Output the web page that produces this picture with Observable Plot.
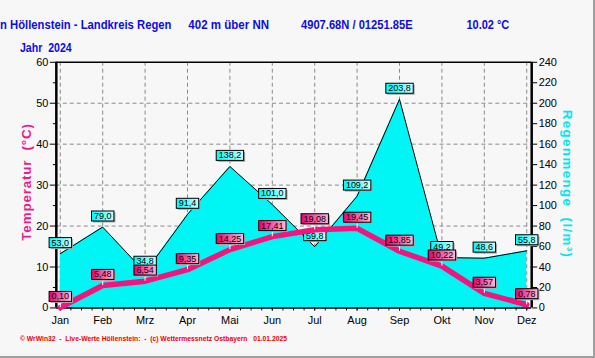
<!DOCTYPE html>
<html><head><meta charset="utf-8">
<script src="https://cdn.jsdelivr.net/npm/d3@7"></script>
<script src="https://cdn.jsdelivr.net/npm/@observablehq/plot@0.6"></script>
<style>
html,body{margin:0;padding:0;background:#f7f7f7;}
#wrap{position:relative;width:593px;height:356px;border-right:2px solid #a0a0a0;border-bottom:2px solid #a0a0a0;overflow:hidden;background:#f7f7f7;}
#wrap svg{position:absolute;left:0;top:0;}
</style></head><body><div id="wrap"></div>
<script>
const months = ["Jan","Feb","Mrz","Apr","Mai","Jun","Jul","Aug","Sep","Okt","Nov","Dez"];
const monthNumbers = [1,2,3,4,5,6,7,8,9,10,11,12];
const temperature = [0.10,5.48,6.54,9.35,14.25,17.41,19.08,19.45,13.85,10.22,3.57,0.78];
const rainfall = [53.0,79.0,34.8,91.4,138.2,101.0,59.8,109.2,203.8,49.2,48.6,55.8];
const tempTicks = [0,10,20,30,40,50,60];
const tempMinorTicks = [5,15,25,35,45,55];
const rainTicks = [0,20,40,60,80,100,120,140,160,180,200,220,240];
const RAIN_PER_DEGREE = 4; // 240 l/m² on the right axis = 60 °C on the left axis

const data = months.map((name, i) => ({m: monthNumbers[i], name, t: temperature[i], r: rainfall[i], rs: rainfall[i] / RAIN_PER_DEGREE}));
const fmt1 = v => v.toFixed(1).replace(".", ",");
const fmt2 = v => v.toFixed(2).replace(".", ",");
const quarterTicks = d3.range(1, 12.001, 0.25);
const monthPx = 468 / 11;
const xDomain = [1 - 4 / monthPx, 12 + 5 / monthPx];

const grey = "#8a8a8a";
const plot = Plot.plot({
  width: 595, height: 358,
  marginLeft: 56, marginRight: 62, marginTop: 62, marginBottom: 49.5,
  style: {background: "transparent", fontFamily: "'Liberation Sans', Arial, sans-serif", fontSize: "11px", color: "black"},
  x: {type: "linear", domain: xDomain, axis: null},
  y: {domain: [0, 60], axis: null},
  marks: [
    Plot.ruleY(tempTicks.slice(1, -1), {stroke: grey, strokeDasharray: "4,3"}),
    Plot.ruleX(data, {x: "m", stroke: grey, strokeDasharray: "4,3"}),
    Plot.areaY(data, {x: "m", y: "rs", fill: "#00f5f5"}),
    Plot.lineY(data, {x: "m", y: "rs", stroke: "black", strokeWidth: 1}),
    Plot.axisY(tempTicks, {anchor: "left", tickSize: 6, tickPadding: 2, label: null}),
    Plot.axisY(tempMinorTicks, {anchor: "left", tickSize: 3, tickFormat: () => "", label: null}),
    Plot.axisY(rainTicks.map(v => v / RAIN_PER_DEGREE), {anchor: "right", tickSize: 5, tickPadding: 2, tickFormat: v => String(v * RAIN_PER_DEGREE), label: null}),
    Plot.axisX(monthNumbers, {anchor: "bottom", tickSize: 3, tickPadding: 5, tickFormat: v => months[v - 1], label: null}),
    Plot.axisX(quarterTicks, {anchor: "bottom", tickSize: 3, tickFormat: () => "", label: null}),
    Plot.ruleY([0], {stroke: "black", strokeWidth: 1.5}),
    Plot.ruleY([60], {stroke: "black", strokeWidth: 1.5}),
    Plot.ruleX(xDomain, {stroke: "black", strokeWidth: 2.5}),
    Plot.text(data, {x: "m", y: "rs", text: d => fmt1(d.r), dy: -11, fontSize: 9, fill: "black"}),
    Plot.lineY(data, {x: "m", y: "t", stroke: "#f5147e", strokeWidth: 5.5, strokeLinejoin: "round"}),
    Plot.ruleX(data, {x: "m", y1: "t", y2: d => d.t + 1.3, stroke: "white"}),
    Plot.text(data, {x: "m", y: "t", text: d => fmt2(d.t), dy: -11, fontSize: 9, fill: "black"})
  ]
});

document.getElementById("wrap").appendChild(plot);
const ns = "http://www.w3.org/2000/svg";
const svg = d3.select(plot);
const defs = svg.insert("defs", ":first-child");
function grad(id, c0, c1) {
  const g = defs.append("linearGradient").attr("id", id).attr("x1", "0").attr("x2", "1").attr("y1", "0").attr("y2", "0");
  g.append("stop").attr("offset", "0").attr("stop-color", c0);
  g.append("stop").attr("offset", "1").attr("stop-color", c1);
}
grad("gc", "#00f8f8", "#c8ffff");
grad("gm", "#e8006e", "#ffb8dc");

const textGroups = plot.querySelectorAll('g[aria-label="text"]');
function boxes(group, fillId) {
  if (!group) return;
  group.querySelectorAll("text").forEach(t => {
    const b = t.getBBox();
    const tr = t.getAttribute("transform");
    const mk = (off, fill, stroke) => {
      const r = document.createElementNS(ns, "rect");
      r.setAttribute("x", b.x - 2.5 + off);
      r.setAttribute("y", b.y + off);
      r.setAttribute("width", b.width + 5);
      r.setAttribute("height", b.height);
      r.setAttribute("fill", fill);
      r.setAttribute("stroke", stroke);
      r.setAttribute("stroke-width", 1);
      if (tr) r.setAttribute("transform", tr);
      t.parentNode.insertBefore(r, t);
    };
    mk(1.5, "#a8a8a8", "none");
    mk(0, `url(#${fillId})`, "black");
  });
}
boxes(textGroups[0], "gc");
boxes(textGroups[1], "gm");

// header, footer and axis titles
const blue = "#0c0ce6";
const headerFont = "'Liberation Sans', Arial, sans-serif";
const headers = [
  {s: "n Höllenstein - Landkreis Regen", x: 0, y: 29, w: 172},
  {s: "402 m über NN", x: 189, y: 29, w: 81},
  {s: "4907.68N / 01251.85E", x: 302, y: 29, w: 112},
  {s: "10.02 °C", x: 468, y: 29, w: 43},
  {s: "Jahr  2024", x: 20, y: 52, w: 52}
];
headers.forEach(h => {
  svg.append("text").attr("x", h.x).attr("y", h.y).attr("fill", blue).attr("text-anchor", "start")
    .attr("font-family", headerFont).attr("font-weight", "bold").attr("font-size", 12.5)
    .attr("textLength", h.w).attr("lengthAdjust", "spacingAndGlyphs").text(h.s);
});
svg.append("text").attr("x", 20).attr("y", 342).attr("fill", "#f00000").attr("text-anchor", "start")
  .attr("font-family", headerFont).attr("font-weight", "bold").attr("font-size", 7)
  .attr("textLength", 268).attr("lengthAdjust", "spacingAndGlyphs")
  .text("© WrWin32  -  Live-Werte Höllenstein:  -  (c) Wettermessnetz Ostbayern   01.01.2025");
svg.append("text").attr("transform", "translate(31,183) rotate(-90)").attr("text-anchor", "middle")
  .attr("fill", "#f0198c").attr("font-family", headerFont).attr("font-weight", "bold").attr("font-size", 13.5)
  .attr("textLength", 117).attr("lengthAdjust", "spacing").text("Temperatur  (°C)");
svg.append("text").attr("transform", "translate(564.5,184) rotate(90)").attr("text-anchor", "middle")
  .attr("fill", "#00e6ee").attr("font-family", headerFont).attr("font-weight", "bold").attr("font-size", 13.5)
  .attr("textLength", 148).attr("lengthAdjust", "spacing").text("Regenmenge  (l/m³)");
</script></body></html>
